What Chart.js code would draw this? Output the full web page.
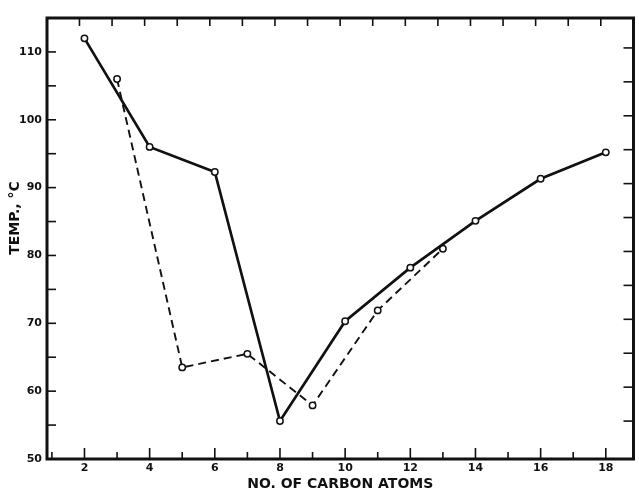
<!DOCTYPE html>
<html>
<head>
<meta charset="utf-8">
<script src="https://cdn.jsdelivr.net/npm/chart.js@4.4.1/dist/chart.umd.min.js"></script>
<style>
  html, body { margin: 0; padding: 0; background: #fff; }
  #wrap { width: 639px; height: 493px; }
</style>
</head>
<body>
<div id="wrap"><canvas id="chart"></canvas></div>
<script>
// solid curve
const solidX = [2, 4, 6, 8, 10, 12, 14, 16, 18];
const solidY = [112, 96, 92.3, 55.6, 70.3, 78.2, 85.1, 91.3, 95.2];
// dashed curve
const dashedX = [3, 5, 7, 9, 11, 13];
const dashedY = [106, 63.5, 65.5, 57.9, 71.9, 81];

const xTickLabels = [2, 4, 6, 8, 10, 12, 14, 16, 18];
const yTickLabels = [50, 60, 70, 80, 90, 100, 110];

const ink = "#111";
const face = "'DejaVu Sans', Verdana, sans-serif";

function toPoints(xs, ys) {
  return xs.map((x, i) => ({ x: x, y: ys[i] }));
}

// frame, inward tick marks and the rotated y title
const framePlugin = {
  id: "frame",
  afterDraw(chart) {
    const { ctx, chartArea: a, scales } = chart;
    const xs = scales.x;
    const ys = scales.y;
    ctx.save();
    ctx.strokeStyle = ink;
    ctx.lineCap = "butt";

    ctx.lineWidth = 1.6;
    for (let v = 1; v <= 18; v++) {
      const px = xs.getPixelForValue(v);
      const len = v % 2 === 0 ? 11 : 7;
      ctx.beginPath();
      ctx.moveTo(px, a.bottom);
      ctx.lineTo(px, a.bottom - len);
      ctx.moveTo(px - 5, a.top);
      ctx.lineTo(px - 5, a.top + 8);
      ctx.stroke();
    }
    for (let v = 55; v <= 115; v += 5) {
      const py = ys.getPixelForValue(v);
      ctx.beginPath();
      ctx.moveTo(a.left, py);
      ctx.lineTo(a.left + 9, py);
      ctx.stroke();
    }
    for (let v = 55; v <= 110; v += 5) {
      const py = ys.getPixelForValue(v) - 4;
      ctx.beginPath();
      ctx.moveTo(a.right, py);
      ctx.lineTo(a.right - 10, py);
      ctx.stroke();
    }

    ctx.lineWidth = 3;
    ctx.strokeRect(a.left, a.top, a.right - a.left, a.bottom - a.top);

    ctx.fillStyle = ink;
    ctx.font = "bold 14px " + face;
    ctx.textAlign = "center";
    ctx.textBaseline = "middle";
    ctx.translate(15, 218);
    ctx.rotate(-Math.PI / 2);
    ctx.fillText("TEMP., °C", 0, 0);
    ctx.restore();
  },
};

const ctx = document.getElementById("chart").getContext("2d");
const config = {
  type: "scatter",
  data: {
    datasets: [
      {
        label: "solid",
        data: toPoints(solidX, solidY),
        showLine: true,
        borderColor: ink,
        borderWidth: 2.7,
        pointRadius: 3.2,
        pointBorderWidth: 1.5,
        pointBackgroundColor: "#fff",
        pointBorderColor: ink,
        tension: 0,
      },
      {
        label: "dashed",
        data: toPoints(dashedX, dashedY),
        showLine: true,
        borderColor: ink,
        borderWidth: 1.9,
        borderDash: [8, 5],
        pointRadius: 3.2,
        pointBorderWidth: 1.5,
        pointBackgroundColor: "#fff",
        pointBorderColor: ink,
        tension: 0,
      },
    ],
  },
  options: {
    responsive: true,
    maintainAspectRatio: false,
    animation: false,
    layout: {
      padding: { top: 18, right: 4, left: 0, bottom: 0 },
    },
    scales: {
      x: {
        type: "linear",
        min: 0.85,
        max: 18.85,
        afterBuildTicks: (scale) => {
          scale.ticks = xTickLabels.map((v) => ({ value: v }));
        },
        afterFit: (scale) => {
          scale.height = 34;
        },
        grid: { display: false, drawTicks: false },
        border: { display: false },
        ticks: {
          color: ink,
          padding: 3,
          maxRotation: 0,
          font: { family: face, size: 11, weight: "bold" },
        },
        title: {
          display: true,
          text: "NO. OF CARBON ATOMS",
          color: ink,
          padding: { top: 0, bottom: 0 },
          font: { family: face, size: 14, weight: "bold" },
        },
      },
      y: {
        min: 50,
        max: 115,
        afterBuildTicks: (scale) => {
          scale.ticks = yTickLabels.map((v) => ({ value: v }));
        },
        afterFit: (scale) => {
          scale.width = 47;
        },
        grid: { display: false, drawTicks: false },
        border: { display: false },
        ticks: {
          color: ink,
          padding: 5,
          font: { family: face, size: 11, weight: "bold" },
        },
      },
    },
    plugins: {
      legend: { display: false },
      tooltip: { enabled: false },
    },
  },
  plugins: [framePlugin],
};
new Chart(ctx, config);
</script>
</body>
</html>
